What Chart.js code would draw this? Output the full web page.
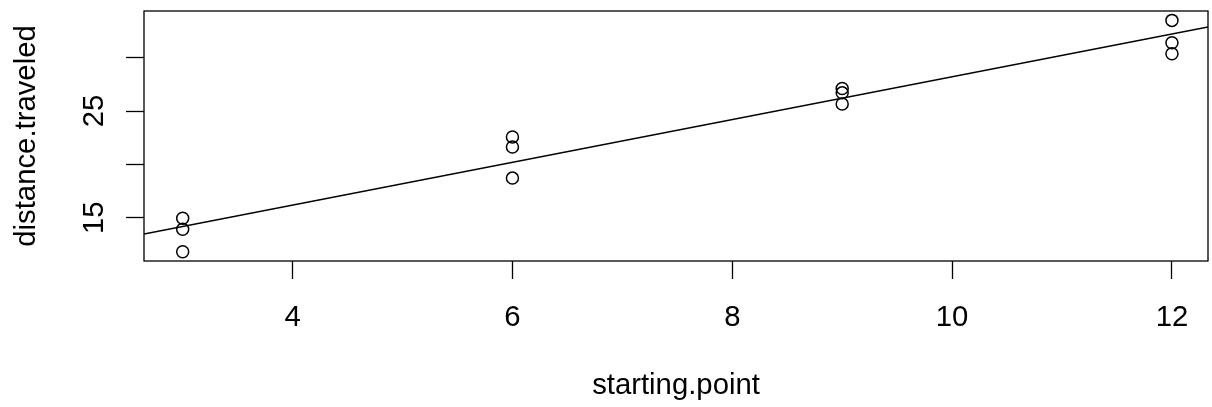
<!DOCTYPE html>
<html>
<head>
<meta charset="utf-8">
<script src="https://cdn.jsdelivr.net/npm/chart.js@4.4.1/dist/chart.umd.min.js"></script>
<style>
  html, body { margin: 0; padding: 0; background: #fff; }
  #wrap { width: 1212px; height: 407px; }
</style>
</head>
<body>
<div id="wrap"><canvas id="chart"></canvas></div>
<script>
// values
const startingPoint = [3, 3, 3, 6, 6, 6, 9, 9, 9, 12, 12, 12];
const distanceTraveled = [14.94, 13.91, 11.80, 22.57, 21.62, 18.71, 27.11, 26.71, 25.67, 33.51, 31.41, 30.38];
const xTicks = [4, 6, 8, 10, 12];
const yTicks = [15, 20, 25, 30];
const yTickLabels = [15, 25];

const xMin = 2.648, xMax = 12.328;
const yMin = 10.93, yMax = 34.39;

const fontFamily = '"Liberation Sans", Arial, Helvetica, sans-serif';
const fontSize = 29.3;

// least squares fit, like abline(lm(...))
const n = startingPoint.length;
const mx = startingPoint.reduce((a, b) => a + b, 0) / n;
const my = distanceTraveled.reduce((a, b) => a + b, 0) / n;
let sxy = 0, sxx = 0;
for (let i = 0; i < n; i++) {
    sxy += (startingPoint[i] - mx) * (distanceTraveled[i] - my);
    sxx += (startingPoint[i] - mx) ** 2;
}
const slope = sxy / sxx;
const intercept = my - slope * mx;

const points = startingPoint.map((x, i) => ({ x: x, y: distanceTraveled[i] }));
const fitLine = [xMin, xMax].map(x => ({ x: x, y: intercept + slope * x }));

const boxPlugin = {
    id: 'box',
    afterDraw(chart) {
        const { ctx, chartArea: a } = chart;
        const ys = chart.scales.y;
        ctx.save();
        ctx.strokeStyle = '#000';
        ctx.lineWidth = 1.3;
        ctx.strokeRect(a.left, a.top, a.right - a.left, a.bottom - a.top);
        ctx.fillStyle = '#000';
        ctx.font = fontSize + 'px ' + fontFamily;
        ctx.textAlign = 'center';
        ctx.textBaseline = 'alphabetic';
        yTickLabels.forEach(v => {
            ctx.save();
            ctx.translate(102.7, ys.getPixelForValue(v));
            ctx.rotate(-Math.PI / 2);
            ctx.fillText(String(v), 0, 0);
            ctx.restore();
        });
        ctx.restore();
    }
};

const ctx = document.getElementById('chart').getContext('2d');
const chart = new Chart(ctx, {
    type: 'scatter',
    data: {
        datasets: [{
            data: points,
            pointStyle: 'circle',
            pointRadius: 6,
            pointHoverRadius: 6,
            pointBorderWidth: 1.5,
            pointBorderColor: '#000',
            pointBackgroundColor: 'rgba(0,0,0,0)'
        }, {
            type: 'line',
            data: fitLine,
            borderColor: '#000',
            borderWidth: 1.5,
            pointRadius: 0,
            fill: false
        }]
    },
    options: {
        responsive: true,
        maintainAspectRatio: false,
        animation: false,
        layout: { autoPadding: false, padding: { top: 11, right: 4, left: 0, bottom: 0 } },
        plugins: { legend: { display: false }, tooltip: { enabled: false } },
        scales: {
            x: {
                type: 'linear',
                min: xMin, max: xMax,
                afterBuildTicks: s => { s.ticks = xTicks.map(v => ({ value: v })); },
                afterFit: s => { s.height = 146; },
                grid: { drawOnChartArea: false, drawTicks: true, tickLength: 18, tickColor: '#000', tickWidth: 1.3 },
                border: { display: false },
                ticks: {
                    color: '#000', padding: 21,
                    font: { family: fontFamily, size: fontSize, lineHeight: 1.2 },
                    maxRotation: 0, minRotation: 0
                },
                title: {
                    display: true, text: 'starting.point', color: '#000',
                    font: { family: fontFamily, size: fontSize, lineHeight: 1.2 },
                    padding: { top: 0, bottom: 3.2 }
                }
            },
            y: {
                type: 'linear',
                min: yMin, max: yMax,
                afterBuildTicks: s => { s.ticks = yTicks.map(v => ({ value: v })); },
                afterFit: s => { s.width = 144; },
                grid: { drawOnChartArea: false, drawTicks: true, tickLength: 18, tickColor: '#000', tickWidth: 1.3 },
                border: { display: false },
                ticks: { callback: () => '', padding: 0 },
                title: {
                    display: true, text: 'distance.traveled', color: '#000',
                    font: { family: fontFamily, size: fontSize, lineHeight: 1.2 },
                    padding: { top: 9.4, bottom: 0 }
                }
            }
        }
    },
    plugins: [boxPlugin]
});
</script>
</body>
</html>
